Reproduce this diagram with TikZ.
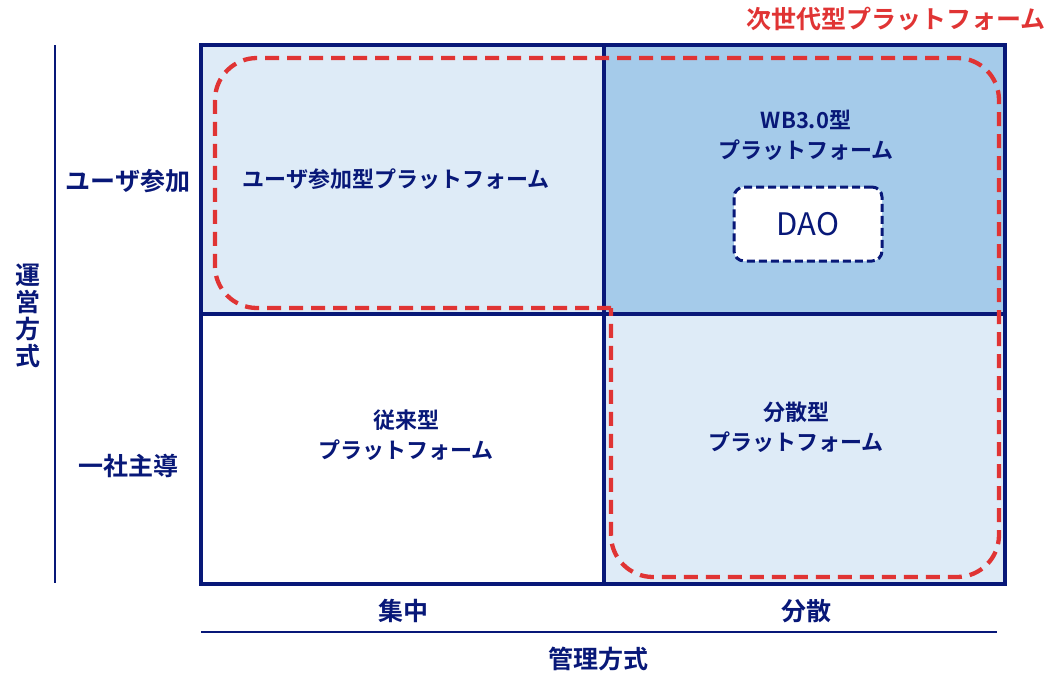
\documentclass[tikz,border=0pt]{standalone}
\usepackage{fontspec}
\newfontfamily\jp{Noto Sans CJK JP}[BoldFont={Noto Sans CJK JP Bold}]
\definecolor{navy}{RGB}{8,24,120}
\definecolor{redd}{RGB}{224,52,52}
\definecolor{lightb}{RGB}{222,235,247}
\definecolor{midb}{RGB}{165,203,234}
\tikzset{
  grid/.style={draw=navy,line width=4pt},
  lbl/.style={text=navy,font=\jp\bfseries\fontsize{22}{26}\selectfont,align=center,inner sep=0pt},
  axlbl/.style={text=navy,font=\jp\bfseries\fontsize{25}{27}\selectfont,align=center,inner sep=0pt},
  reddash/.style={draw=redd,line width=4.3pt,dash pattern=on 14pt off 8pt,rounded corners=42pt},
  daobox/.style={draw=navy,fill=white,line width=3pt,dash pattern=on 8pt off 4pt,rounded corners=10pt,minimum width=148pt,minimum height=74pt,text=navy,font=\jp\fontsize{31}{34}\selectfont}
}
\begin{document}
\begin{tikzpicture}[x=1pt,y=-1pt]
\useasboundingbox (0,0) rectangle (1055,675);
% fills
\fill[lightb] (201,45) rectangle (604,314);
\fill[midb] (604,45) rectangle (1005,314);
\fill[lightb] (604,314) rectangle (1005,584);
% grid
\draw[grid] (201,45) rectangle (1005,584);
\draw[grid] (604,45) -- (604,584);
\draw[grid] (201,314) -- (1005,314);
% red dashed region
\coordinate (rs) at (611,308);
\draw[reddash] (rs) -- (215,308) -- (215,58) -- (999,58) -- (999,577) -- (611,577) -- (rs);
% titles
\node[text=redd,font=\jp\bfseries\fontsize{25}{28}\selectfont,anchor=east,inner sep=0pt] (title) at (1046,19) {次世代型プラットフォーム};
% quadrant labels
\node[lbl] (q1) at (396,179) {ユーザ参加型プラットフォーム};
\node[lbl] (q2) at (806,135) {WB3.0型\\[4pt]プラットフォーム};
\node[daobox] (dao) at (808,224) {DAO};
\node[lbl] (q3) at (406,435) {従来型\\[4pt]プラットフォーム};
\node[lbl] (q4) at (796,427) {分散型\\[4pt]プラットフォーム};
% axes
\coordinate (vt) at (55,45);
\coordinate (vb) at (55,583);
\draw[navy,line width=1.5pt] (vt) -- (vb);
\coordinate (hl) at (201,632);
\coordinate (hr) at (997,632);
\draw[navy,line width=1.5pt] (hl) -- (hr);
\node[axlbl] (y1) at (128,181) {ユーザ参加};
\node[axlbl] (y2) at (128,466) {一社主導};
\node[axlbl] (yax) at (28,316) {運\\営\\方\\式};
\node[axlbl] (x1) at (403,611) {集中};
\node[axlbl] (x2) at (806,611) {分散};
\node[axlbl] (xax) at (598,659) {管理方式};
\end{tikzpicture}
\end{document}
